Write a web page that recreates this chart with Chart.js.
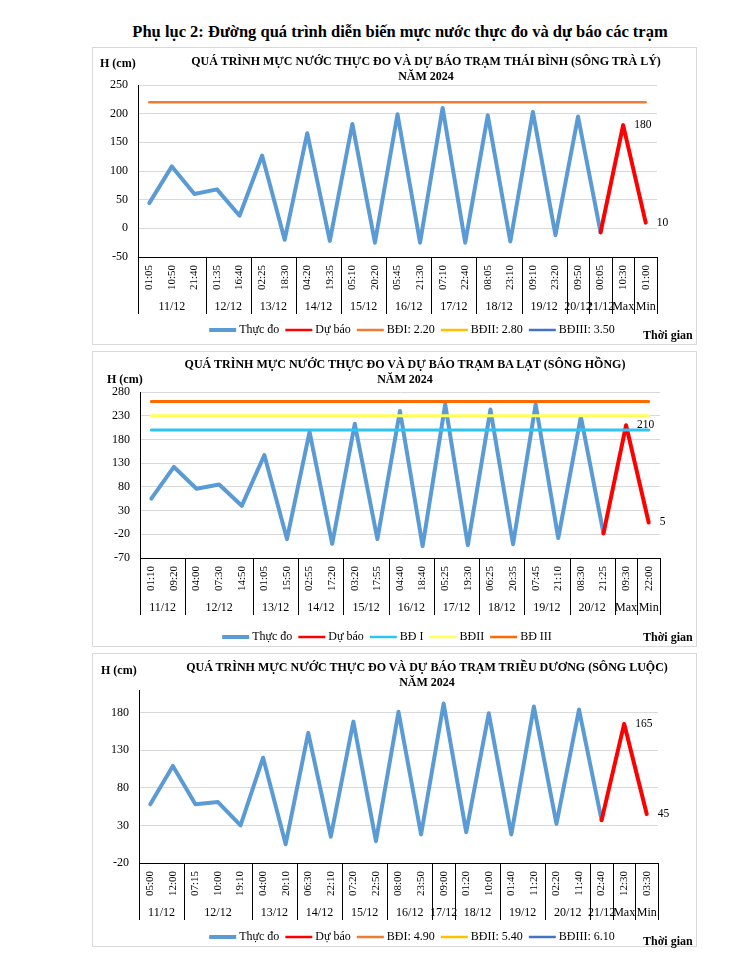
<!DOCTYPE html>
<html>
<head>
<meta charset="utf-8">
<script src="https://cdn.jsdelivr.net/npm/chart.js@4.4.1/dist/chart.umd.min.js"></script>
<style>
  html, body { margin: 0; padding: 0; background: #fff; }
  body { width: 750px; height: 961px; position: relative; overflow: hidden;
         font-family: "Liberation Serif", "Times New Roman", serif; color: #000; }
  .frame { position: absolute; border: 1px solid #D9D9D9; box-sizing: border-box; pointer-events: none; }
  canvas { position: absolute; }
  .t { position: absolute; white-space: nowrap; line-height: 1; }
  .b { font-weight: bold; }
  .center { text-align: center; }
</style>
</head>
<body>

<div class="t b center" style="left:0;width:800px;top:24px;font-size:16.5px;">Phụ lục 2: Đường quá trình diễn biến mực nước thực đo và dự báo các trạm</div>

<!-- Chart 1 -->
<canvas id="c1" width="605" height="298" style="left:92px;top:47px;"></canvas>
<div class="frame" style="left:92px;top:47px;width:605px;height:298px;"></div>
<div class="t b center" style="left:126px;width:600px;top:54px;font-size:12px;line-height:15px;">QUÁ TRÌNH MỰC NƯỚC THỰC ĐO VÀ DỰ BÁO TRẠM THÁI BÌNH (SÔNG TRÀ LÝ)<br>NĂM 2024</div>
<div class="t b" style="left:100px;top:57px;font-size:12px;">H (cm)</div>
<div class="t b" style="left:643px;top:329px;font-size:12px;">Thời gian</div>

<!-- Chart 2 -->
<canvas id="c2" width="605" height="296" style="left:92px;top:351px;"></canvas>
<div class="frame" style="left:92px;top:351px;width:605px;height:296px;"></div>
<div class="t b center" style="left:105px;width:600px;top:357px;font-size:12px;line-height:15px;">QUÁ TRÌNH MỰC NƯỚC THỰC ĐO VÀ DỰ BÁO TRẠM BA LẠT (SÔNG HỒNG)<br>NĂM 2024</div>
<div class="t b" style="left:107px;top:373px;font-size:12px;">H (cm)</div>
<div class="t b" style="left:643px;top:631px;font-size:12px;">Thời gian</div>

<!-- Chart 3 -->
<canvas id="c3" width="605" height="294" style="left:92px;top:653px;"></canvas>
<div class="frame" style="left:92px;top:653px;width:605px;height:294px;"></div>
<div class="t b center" style="left:127px;width:600px;top:660px;font-size:12px;line-height:15px;">QUÁ TRÌNH MỰC NƯỚC THỰC ĐO VÀ DỰ BÁO TRẠM TRIỀU DƯƠNG (SÔNG LUỘC)<br>NĂM 2024</div>
<div class="t b" style="left:101px;top:664px;font-size:12px;">H (cm)</div>
<div class="t b" style="left:643px;top:935px;font-size:12px;">Thời gian</div>

<script>
// ================= DATA =================
// --- Trạm Thái Bình (sông Trà Lý) ---
const tbTimes = ['01:05','10:50','21:40','01:35','16:40','02:25','18:30','04:20','19:35','05:10','20:20','05:45','21:30','07:10','22:40','08:05','23:10','09:10','23:20','09:50','00:05','10:30','01:00'];
const tbDates = ['11/12','11/12','11/12','12/12','12/12','13/12','13/12','14/12','14/12','15/12','15/12','16/12','16/12','17/12','17/12','18/12','18/12','19/12','19/12','20/12','21/12','Max','Min'];
const tbObserved = [44,108,60,68,22,127,-20,166,-22,182,-25,199,-25,210,-25,197,-23,203,-12,195,-7,null,null];
const tbForecast = [null,null,null,null,null,null,null,null,null,null,null,null,null,null,null,null,null,null,null,null,-7,180,10];
const tbLevelLabels = ['BĐI: 2.20','BĐII: 2.80','BĐIII: 3.50'];
const tbLevelValues = [220, 280, 350];
const tbTicks = [-50, 0, 50, 100, 150, 200, 250];

// --- Trạm Ba Lạt (sông Hồng) ---
const blTimes = ['01:10','09:20','04:00','07:30','14:50','01:05','15:50','02:55','17:20','03:20','17:55','04:40','18:40','05:25','19:30','06:25','20:35','07:45','21:10','08:30','21:25','09:30','22:00'];
const blDates = ['11/12','11/12','12/12','12/12','12/12','13/12','13/12','14/12','14/12','15/12','15/12','16/12','16/12','17/12','17/12','18/12','18/12','19/12','19/12','20/12','20/12','Max','Min'];
const blObserved = [55,122,76,85,40,147,-30,196,-40,213,-30,240,-45,254,-43,243,-41,254,-28,228,-18,null,null];
const blForecast = [null,null,null,null,null,null,null,null,null,null,null,null,null,null,null,null,null,null,null,null,-18,210,5];
const blLevelLabels = ['BĐ I','BĐII','BĐ III'];
const blLevelValues = [200, 230, 260];
const blTicks = [-70, -20, 30, 80, 130, 180, 230, 280];

// --- Trạm Triều Dương (sông Luộc) ---
const tdTimes = ['05:00','12:00','07:15','10:00','19:10','04:00','20:10','06:30','22:10','07:20','22:50','08:00','23:50','09:00','01:20','10:00','01:40','11:20','02:20','11:40','02:40','12:30','03:30'];
const tdDates = ['11/12','11/12','12/12','12/12','12/12','13/12','13/12','14/12','14/12','15/12','15/12','16/12','16/12','17/12','18/12','18/12','19/12','19/12','20/12','20/12','21/12','Max','Min'];
const tdObserved = [58,109,58,61,30,120,5,153,15,168,9,181,18,192,21,179,18,188,32,184,37,null,null];
const tdForecast = [null,null,null,null,null,null,null,null,null,null,null,null,null,null,null,null,null,null,null,null,37,165,45];
const tdLevelLabels = ['BĐI: 4.90','BĐII: 5.40','BĐIII: 6.10'];
const tdLevelValues = [490, 540, 610];
const tdTicks = [-20, 30, 80, 130, 180];

const seriesNames = ['Thực đo', 'Dự báo'];

// ================= STYLE =================
const FONT = '"Liberation Serif", "Times New Roman", serif';

const groupAxisPlugin = {
  id: 'groupAxis',
  afterDraw(chart, args, opts) {
    const dates = opts.dates;
    if (!dates) return;
    const xs = chart.scales.x, area = chart.chartArea, ctx = chart.ctx;
    const n = dates.length, bw = (xs.right - xs.left) / n;
    const edges = new Set();
    ctx.save();
    ctx.font = '12px ' + FONT;
    ctx.fillStyle = '#000';
    ctx.textAlign = 'center';
    ctx.textBaseline = 'middle';
    let start = 0;
    for (let i = 1; i <= n; i++) {
      if (i === n || dates[i] !== dates[start]) {
        const xl = xs.getPixelForTick(start) - bw / 2;
        const xr = xs.getPixelForTick(i - 1) + bw / 2;
        ctx.fillText(dates[start], (xl + xr) / 2, area.bottom + opts.labelOffset);
        edges.add(Math.round(xl)); edges.add(Math.round(xr));
        start = i;
      }
    }
    ctx.strokeStyle = '#000';
    ctx.lineWidth = 1;
    ctx.beginPath();
    edges.forEach(x => {
      ctx.moveTo(x + 0.5, Math.round(area.bottom));
      ctx.lineTo(x + 0.5, Math.round(area.bottom + opts.lineDepth));
    });
    ctx.stroke();
    ctx.restore();
  }
};

const valueLabelPlugin = {
  id: 'valueLabels',
  afterDatasetsDraw(chart, args, opts) {
    const ctx = chart.ctx;
    ctx.save();
    ctx.font = '11.5px ' + FONT;
    ctx.fillStyle = '#000';
    ctx.textAlign = 'left';
    ctx.textBaseline = 'middle';
    chart.data.datasets.forEach((ds, di) => {
      if (!ds.labelIndices) return;
      const meta = chart.getDatasetMeta(di);
      ds.labelIndices.forEach(i => {
        const el = meta.data[i];
        if (!el || ds.data[i] == null) return;
        ctx.fillText(String(ds.data[i]), el.x + opts.dx, el.y);
      });
    });
    ctx.restore();
  }
};

const lineLegendPlugin = {
  id: 'lineLegend',
  afterDraw(chart, args, opts) {
    const ctx = chart.ctx;
    ctx.save();
    ctx.font = '12px ' + FONT;
    const items = chart.data.datasets.map(ds => ({
      text: ds.label, color: ds.borderColor, w: ds.legendLineWidth || ds.borderWidth
    }));
    const L = opts.lineLength, g1 = opts.textGap, g2 = opts.itemGap;
    let total = 0;
    items.forEach((it, i) => {
      it.tw = ctx.measureText(it.text).width;
      total += L + g1 + it.tw + (i < items.length - 1 ? g2 : 0);
    });
    let x = opts.centerX - total / 2;
    const y = opts.y;
    items.forEach(it => {
      ctx.strokeStyle = it.color;
      ctx.lineWidth = it.w;
      ctx.lineCap = 'butt';
      ctx.beginPath();
      ctx.moveTo(x, y);
      ctx.lineTo(x + L, y);
      ctx.stroke();
      x += L + g1;
      ctx.fillStyle = '#000';
      ctx.textAlign = 'left';
      ctx.textBaseline = 'middle';
      ctx.fillText(it.text, x, y);
      x += it.tw + g2;
    });
    ctx.restore();
  }
};

function buildChart(id, s) {
  const maxMinIdx = s.dates.map((d, i) => (d === 'Max' || d === 'Min') ? i : -1).filter(i => i >= 0);
  const datasets = [
    { label: seriesNames[0], data: s.observed, borderColor: '#5B9BD5', borderWidth: 4, legendLineWidth: 4, order: 3 },
    { label: seriesNames[1], data: s.forecast, borderColor: '#FF0000', borderWidth: 4, legendLineWidth: 2.5, order: 2, labelIndices: maxMinIdx }
  ];
  s.levelLabels.forEach((lab, k) => {
    datasets.push({
      label: lab,
      data: s.times.map(() => s.levelValues[k]),
      borderColor: s.levelColors[k],
      borderWidth: s.levelWidth,
      legendLineWidth: 2.5,
      order: 1
    });
  });
  datasets.forEach(d => {
    d.pointRadius = 0; d.pointHoverRadius = 0; d.tension = 0; d.fill = false;
    d.borderJoinStyle = 'round'; d.borderCapStyle = 'round'; d.spanGaps = false;
  });
  return new Chart(document.getElementById(id), {
    type: 'line',
    data: { labels: s.times, datasets },
    plugins: [groupAxisPlugin, valueLabelPlugin, lineLegendPlugin],
    options: {
      responsive: false,
      animation: false,
      devicePixelRatio: 1,
      layout: { padding: s.padding },
      plugins: {
        legend: { display: false },
        title: { display: false },
        tooltip: { enabled: false },
        groupAxis: { dates: s.dates, labelOffset: 50, lineDepth: 57 },
        valueLabels: { dx: 11 },
        lineLegend: { centerX: s.legendX, y: s.legendY, lineLength: 27, textGap: 3, itemGap: 6 }
      },
      scales: {
        x: {
          type: 'category',
          offset: true,
          afterFit: sc => { sc.height = 58; },
          grid: { display: false, drawTicks: false },
          border: { display: true, color: '#000', width: 1 },
          ticks: {
            autoSkip: false, maxRotation: 90, minRotation: 90, padding: 8,
            color: '#000', font: { family: FONT, size: 11 }
          }
        },
        y: {
          min: s.ticks[0],
          max: s.yMax,
          afterFit: sc => { sc.width = s.yWidth; },
          afterBuildTicks: sc => { sc.ticks = s.ticks.map(v => ({ value: v })); },
          grid: {
            drawTicks: false,
            color: ctx => (ctx.tick && ctx.tick.value === s.ticks[0]) ? 'rgba(0,0,0,0)' : '#D9D9D9',
            lineWidth: 1
          },
          border: { display: true, color: '#000', width: 1 },
          ticks: { padding: 10, color: '#000', font: { family: FONT, size: 12 } }
        }
      }
    }
  });
}

buildChart('c1', {
  times: tbTimes, dates: tbDates, observed: tbObserved, forecast: tbForecast,
  levelLabels: tbLevelLabels, levelValues: tbLevelValues, ticks: tbTicks, yMax: 250,
  levelColors: ['#ED7D31', '#FFC000', '#4472C4'], levelWidth: 2.5,
  padding: { left: 0, right: 40, top: 38, bottom: 30 }, yWidth: 46,
  legendX: 320, legendY: 283
});

buildChart('c2', {
  times: blTimes, dates: blDates, observed: blObserved, forecast: blForecast,
  levelLabels: blLevelLabels, levelValues: blLevelValues, ticks: blTicks, yMax: 280,
  levelColors: ['#2EC4F5', '#FFFF57', '#FF6A00'], levelWidth: 3,
  padding: { left: 0, right: 37, top: 41, bottom: 31 }, yWidth: 48,
  legendX: 295, legendY: 286
});

buildChart('c3', {
  times: tdTimes, dates: tdDates, observed: tdObserved, forecast: tdForecast,
  levelLabels: tdLevelLabels, levelValues: tdLevelValues, ticks: tdTicks, yMax: 210,
  levelColors: ['#ED7D31', '#FFC000', '#4472C4'], levelWidth: 2.5,
  padding: { left: 0, right: 39, top: 37, bottom: 26 }, yWidth: 47,
  legendX: 320, legendY: 284
});
</script>
</body>
</html>
